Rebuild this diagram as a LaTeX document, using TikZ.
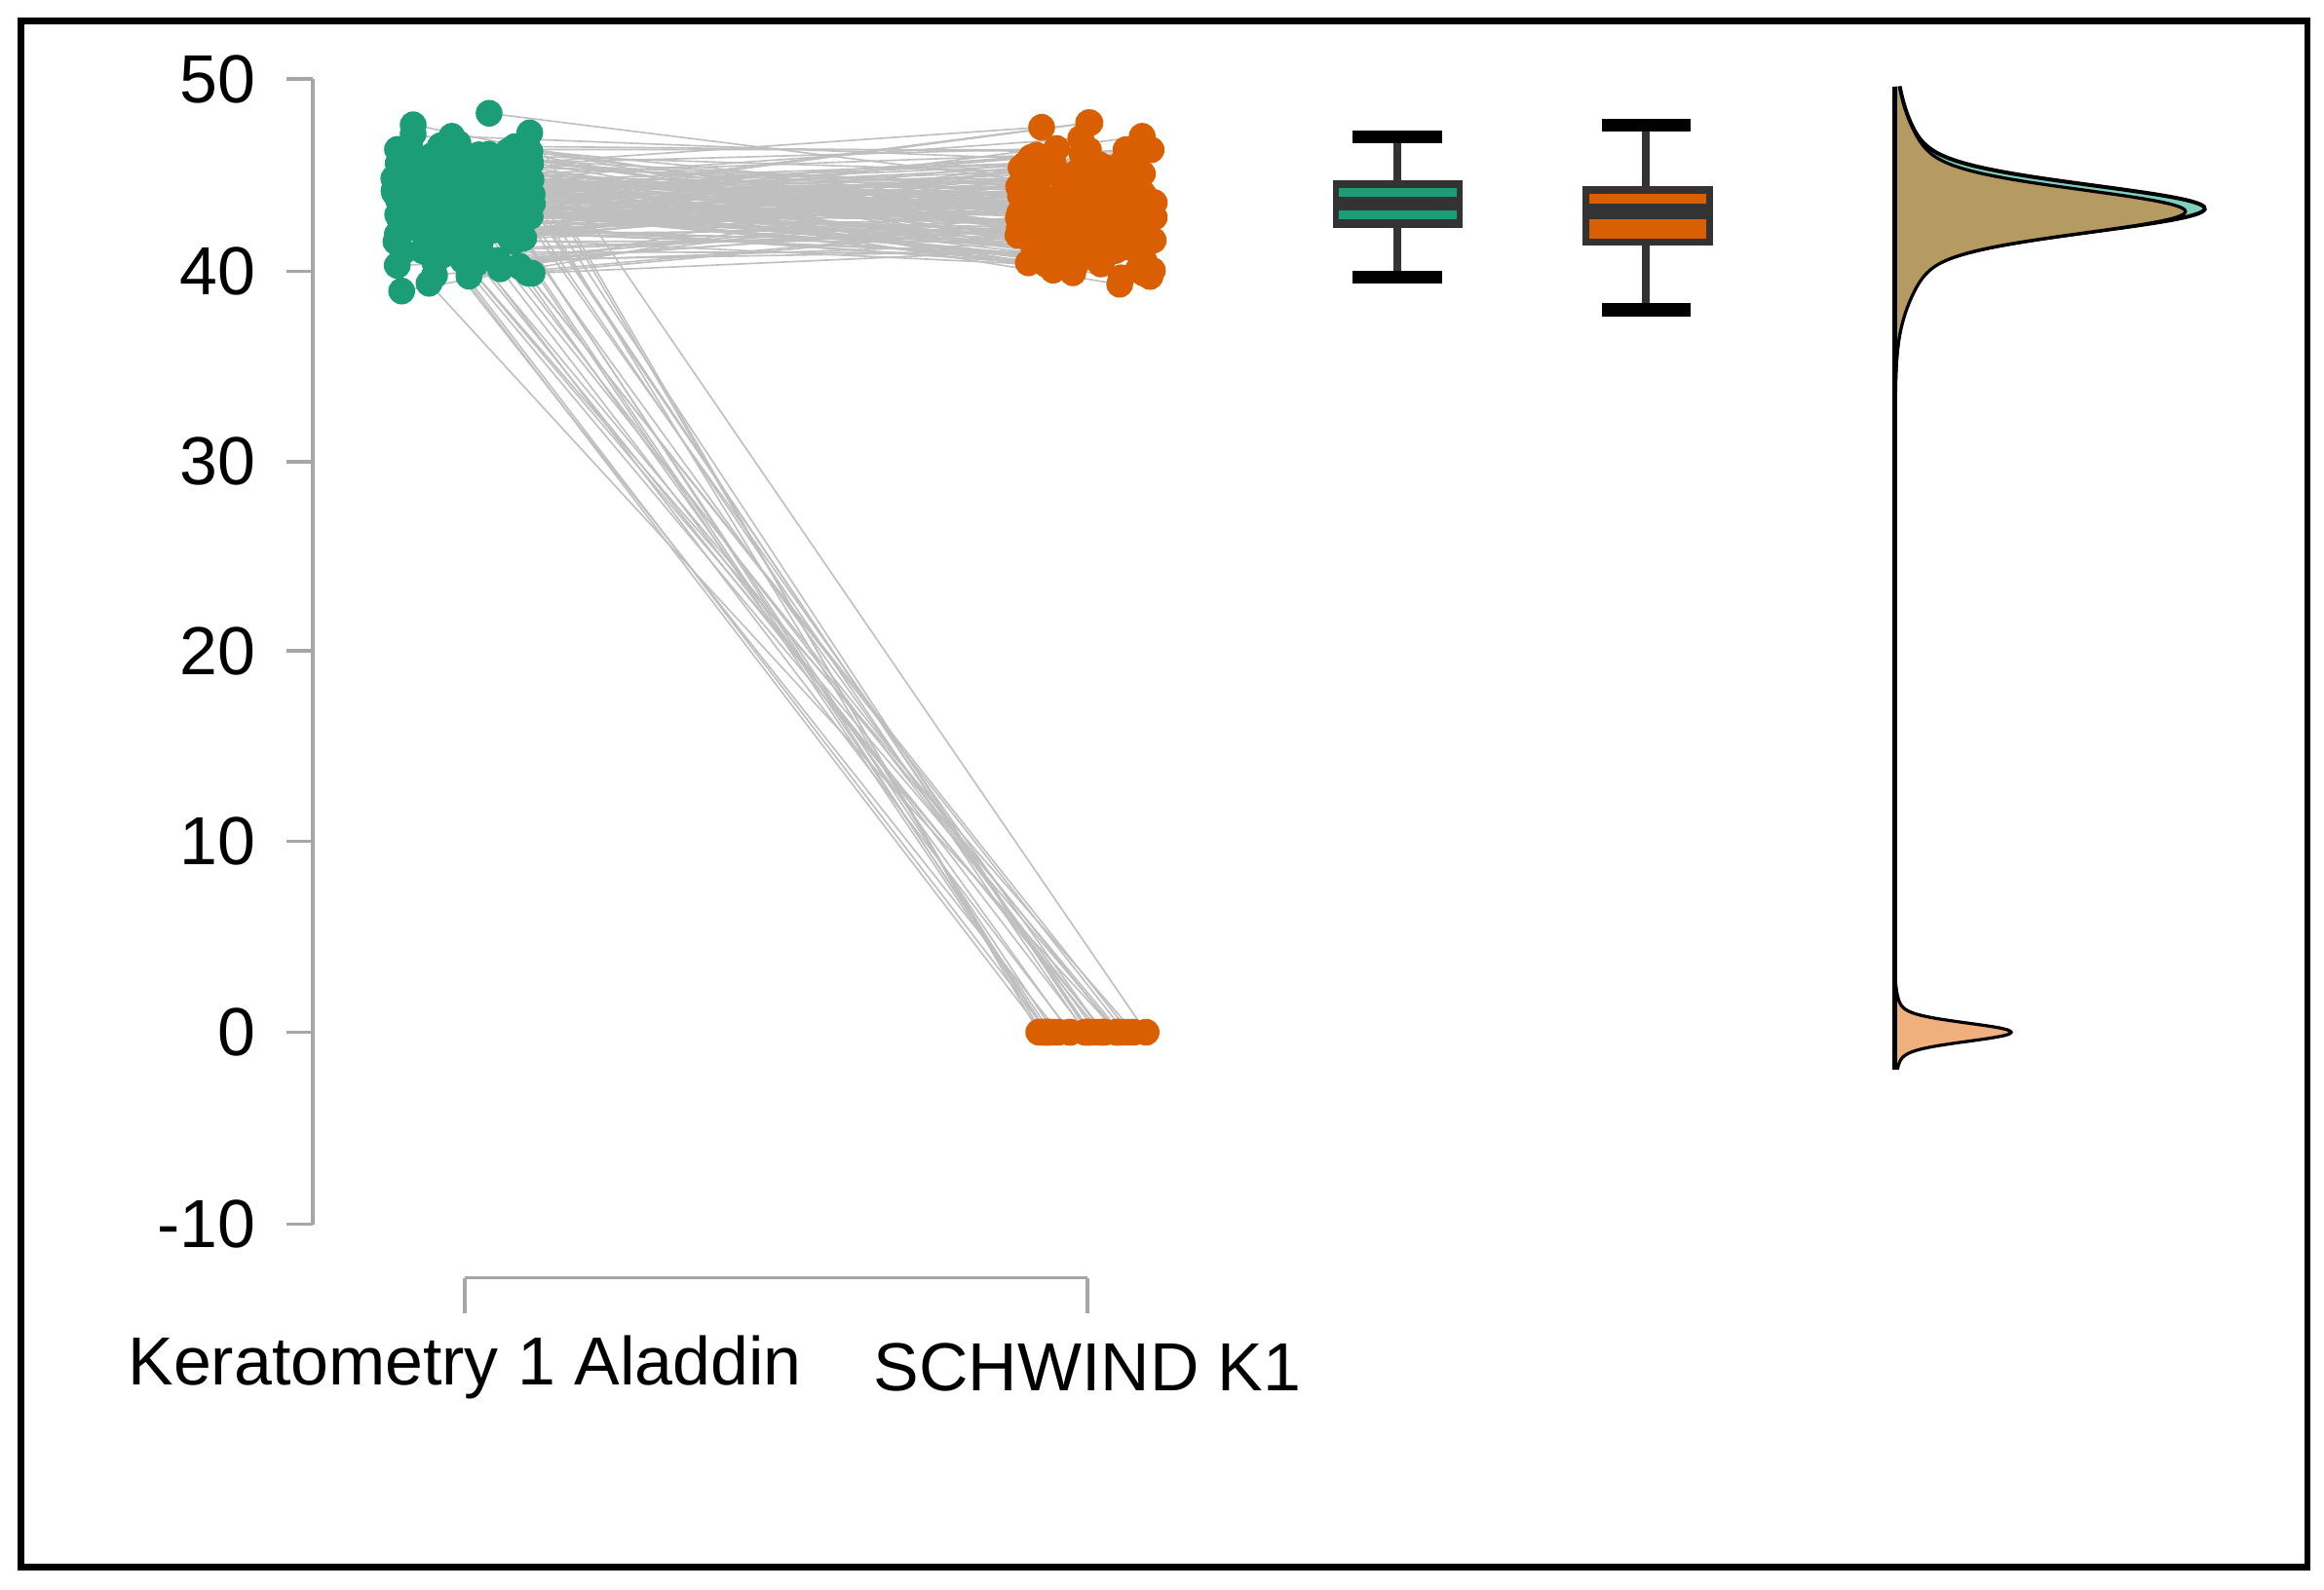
\documentclass[tikz,border=0pt]{standalone}
\usepackage{fontspec}
\setmainfont{Liberation Sans}
\definecolor{gpt}{HTML}{1B9E77}
\definecolor{opt}{HTML}{D95F02}
\definecolor{gden}{HTML}{7FD0BE}
\definecolor{tanc}{HTML}{B59A62}
\definecolor{lor}{HTML}{F0B07E}
\definecolor{dk}{HTML}{333333}
\pgfdeclarelayer{fg}
\pgfsetlayers{main,fg}
\pgfmathdeclarefunction{gss}{2}{\pgfmathparse{exp(-min(0.5*((#1)/(#2))^2,40))}}
\begin{document}
\begin{tikzpicture}[x=0.02cm,y=-0.02cm,
  tick/.style={gray!70,line width=1.2pt},
  lab/.style={font=\fontsize{26}{30}\selectfont},
  conn/.style={gray!50,line width=0.6pt}]
\useasboundingbox (0,0) rectangle (1560,1067);
\node[draw=black,line width=2.5pt,minimum width=30.7cm,minimum height=20.76cm,anchor=north west] (frame) at (12,12) {};
% y axis
\draw[tick] (210,53) -- (210,822);
\foreach \v/\p in {50/53,40/182,30/310,20/437,10/565,0/693,-10/822}{
  \draw[tick] (192,\p) -- (210,\p);
  \node[lab,anchor=east] (yl\p) at (178,\p) {\v};
}
% x axis
\draw[tick] (312,858) -- (730,858);
\draw[tick] (312,858) -- (312,882);
\draw[tick] (730,858) -- (730,882);
\node[lab] (xa) at (312,918) {Keratometry 1 Aladdin};
\node[lab] (xb) at (730,918) {SCHWIND K1};
% points and lines
\pgfmathsetseed{11}
\foreach \k in {1,...,200}{
  \pgfmathsetmacro\myz{\k>170}
  \pgfmathsetmacro\myvg{max(38.2,min(48.2,43.4+1.8*(rand+rand+rand)))}
  \pgfmathsetmacro\myxg{311+47*rand}
  \pgfmathsetmacro\myvo{(1-\myz)*max(38.2,min(47.7,43.0+1.8*(rand+rand+rand)))}
  \pgfmathsetmacro\myxo{(1-\myz)*(730+47*rand)+\myz*(735+38*rand)}
  \pgfmathsetmacro\mypg{693-12.8*\myvg}
  \pgfmathsetmacro\mypo{693-12.8*\myvo}
  \coordinate (g\k) at (\myxg,\mypg);
  \coordinate (o\k) at (\myxo,\mypo);
  \draw[conn] (g\k) -- (o\k);
  \begin{pgfonlayer}{fg}
    \fill[gpt] (g\k) circle[radius=0.18cm];
    \fill[opt] (o\k) circle[radius=0.18cm];
  \end{pgfonlayer}
}
% boxplots
\begin{scope}[line width=3pt]
\draw[dk] (938,92) -- (938,186);
\draw[black,line width=5pt] (908,92) -- (968,92) (908,186) -- (968,186);
\fill[dk] (895,121) rectangle (982,153);
\fill[gpt] (899,126) rectangle (978,132);
\fill[gpt] (899,141) rectangle (978,147);
\draw[dk] (1105,84) -- (1105,208);
\draw[black,line width=5pt] (1075,84) -- (1135,84) (1075,208) -- (1135,208);
\fill[dk] (1062,125) rectangle (1150,165);
\fill[opt] (1067,130) rectangle (1145,137);
\fill[opt] (1067,147) rectangle (1145,160);
\end{scope}
% densities
\fill[gden] (1272,58) -- plot[domain=58:400,samples=200,smooth] ({1272+175*gss(\x-140,15)+33*gss(\x-140,38)},\x) -- (1272,400) -- cycle;
\draw[black,line width=1.5pt] plot[domain=58:400,samples=200,smooth] ({1272+175*gss(\x-140,15)+33*gss(\x-140,38)},\x);
\fill[tanc] (1272,58) -- plot[domain=58:400,samples=200,smooth] ({1272+160*gss(\x-142,14)+35*gss(\x-142,38)},\x) -- (1272,400) -- cycle;
\draw[black,line width=1.2pt] plot[domain=58:400,samples=200,smooth] ({1272+160*gss(\x-142,14)+35*gss(\x-142,38)},\x);
\fill[lor] (1272,660) -- plot[domain=660:718,samples=80,smooth] ({1272+70*gss(\x-693,6)+8*gss(\x-693,14)},\x) -- cycle;
\draw[black,line width=1.2pt] plot[domain=660:718,samples=80,smooth] ({1272+70*gss(\x-693,6)+8*gss(\x-693,14)},\x);
\draw[black,line width=2pt] (1272,58) -- (1272,718);
\end{tikzpicture}
\end{document}
